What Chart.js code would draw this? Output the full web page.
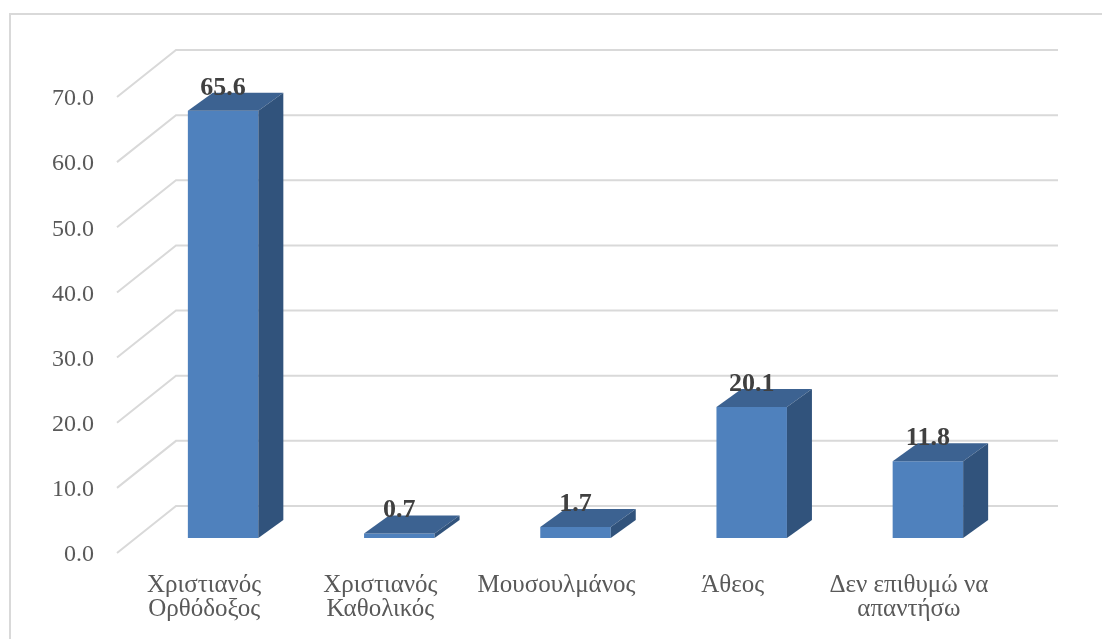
<!DOCTYPE html>
<html>
<head>
<meta charset="utf-8">
<script src="https://cdn.jsdelivr.net/npm/chart.js@4/dist/chart.umd.min.js"></script>
<style>
  body { margin: 0; background: #fff; }
  #wrap { width: 1102px; height: 639px; position: relative; }
</style>
</head>
<body>
<div id="wrap"><canvas id="chart"></canvas></div>
<script>
// Δεδομένα του γραφήματος
const categories = [
    ['Χριστιανός', 'Ορθόδοξος'],
    ['Χριστιανός', 'Καθολικός'],
    'Μουσουλμάνος',
    'Άθεος',
    ['Δεν επιθυμώ να', 'απαντήσω']
];
const values = [65.6, 0.7, 1.7, 20.1, 11.8];
const yTicks = [0, 10, 20, 30, 40, 50, 60, 70];

// Ψευδο-3D: βάθος δαπέδου και βάθος στήλης
const FLOOR = { dx: 60, dy: -47 };
const BAR_SHIFT = { dx: 19, dy: -15 };
const BAR_DEPTH = { dx: 25, dy: -18 };
const colors = { front: '#4F81BD', top: '#3C6291', side: '#31537C', grid: '#D9D9D9' };

const fakeThreeD = {
    id: 'fakeThreeD',
    beforeDraw(chart) {
        const ctx = chart.ctx;
        ctx.save();
        ctx.strokeStyle = colors.grid;
        ctx.lineWidth = 2;
        ctx.beginPath();
        ctx.moveTo(10, 639);
        ctx.lineTo(10, 14);
        ctx.lineTo(1102, 14);
        ctx.stroke();
        ctx.restore();
    },
    beforeDatasetsDraw(chart) {
        const ctx = chart.ctx;
        const area = chart.chartArea;
        const y = chart.scales.y;
        ctx.save();
        ctx.strokeStyle = colors.grid;
        ctx.lineWidth = 2;
        yTicks.forEach(v => {
            const py = y.getPixelForValue(v);
            ctx.beginPath();
            ctx.moveTo(area.left + 1, py);
            ctx.lineTo(area.left + FLOOR.dx, py + FLOOR.dy);
            ctx.lineTo(area.right + FLOOR.dx + 1, py + FLOOR.dy);
            ctx.stroke();
        });
        ctx.restore();
        // οι μπροστινές όψεις σχεδιάζονται μετατοπισμένες
        ctx.save();
        ctx.translate(BAR_SHIFT.dx, BAR_SHIFT.dy);
    },
    afterDatasetsDraw(chart) {
        const ctx = chart.ctx;
        ctx.restore();
        const meta = chart.getDatasetMeta(0);
        ctx.save();
        meta.data.forEach((bar, i) => {
            const p = bar.getProps(['x', 'y', 'base', 'width'], true);
            const L = p.x - p.width / 2 + BAR_SHIFT.dx;
            const R = p.x + p.width / 2 + BAR_SHIFT.dx;
            const T = p.y + BAR_SHIFT.dy;
            const B = p.base + BAR_SHIFT.dy;
            // πάνω όψη
            ctx.fillStyle = colors.top;
            ctx.beginPath();
            ctx.moveTo(L, T);
            ctx.lineTo(R, T);
            ctx.lineTo(R + BAR_DEPTH.dx, T + BAR_DEPTH.dy);
            ctx.lineTo(L + BAR_DEPTH.dx, T + BAR_DEPTH.dy);
            ctx.closePath();
            ctx.fill();
            // πλαϊνή όψη
            ctx.fillStyle = colors.side;
            ctx.beginPath();
            ctx.moveTo(R, T);
            ctx.lineTo(R + BAR_DEPTH.dx, T + BAR_DEPTH.dy);
            ctx.lineTo(R + BAR_DEPTH.dx, B + BAR_DEPTH.dy);
            ctx.lineTo(R, B);
            ctx.closePath();
            ctx.fill();
            // ετικέτα τιμής
            ctx.fillStyle = '#404040';
            ctx.font = 'bold 26px "Liberation Serif"';
            ctx.textAlign = 'center';
            ctx.textBaseline = 'alphabetic';
            ctx.fillText(values[i].toFixed(1), (L + R) / 2, T + BAR_DEPTH.dy + 2);
        });
        ctx.restore();
    }
};

const ctx = document.getElementById('chart').getContext('2d');
new Chart(ctx, {
    type: 'bar',
    data: {
        labels: categories,
        datasets: [{
            data: values,
            backgroundColor: colors.front,
            borderWidth: 0,
            barPercentage: 0.4,
            categoryPercentage: 1
        }]
    },
    options: {
        responsive: true,
        maintainAspectRatio: false,
        animation: false,
        layout: { padding: { top: 97, right: 105, left: 0, bottom: 0 } },
        plugins: {
            legend: { display: false },
            tooltip: { enabled: false }
        },
        scales: {
            x: {
                grid: { display: false, drawTicks: false },
                border: { display: false },
                ticks: {
                    color: '#595959',
                    padding: 20,
                    maxRotation: 0,
                    autoSkip: false,
                    font: { family: 'Liberation Serif', size: 25, lineHeight: 0.96 }
                },
                afterFit(scale) { scale.height = 639 - 553; }
            },
            y: {
                min: 0,
                max: 70,
                grid: { display: false, drawTicks: false },
                border: { display: false },
                ticks: {
                    stepSize: 10,
                    color: '#595959',
                    padding: 22,
                    labelOffset: 2,
                    font: { family: 'Liberation Serif', size: 24 },
                    callback: v => v.toFixed(1)
                },
                afterFit(scale) { scale.width = 116; }
            }
        }
    },
    plugins: [fakeThreeD]
});
</script>
</body>
</html>
